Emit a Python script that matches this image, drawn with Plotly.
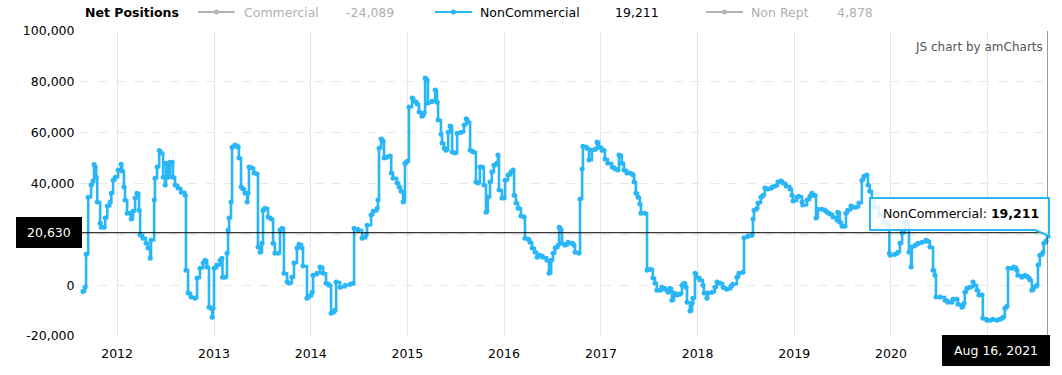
import plotly.graph_objects as go

# ---------------- data ----------------
dates = [
    "2011-08-25", "2011-09-02", "2011-09-06", "2011-09-14", "2011-09-25", "2011-10-02", "2011-10-06", "2011-10-10",
    "2011-10-14", "2011-10-18", "2011-10-29", "2011-11-02", "2011-11-13", "2011-11-17", "2011-11-25", "2011-12-06",
    "2011-12-10", "2011-12-17", "2011-12-25",
    "2012-01-05", "2012-01-16", "2012-01-20", "2012-01-27", "2012-01-31", "2012-02-08", "2012-02-19", "2012-02-23",
    "2012-03-01", "2012-03-09", "2012-03-16", "2012-03-24", "2012-03-28", "2012-04-08", "2012-04-19", "2012-04-27",
    "2012-05-05", "2012-05-08", "2012-05-20", "2012-05-23", "2012-05-31", "2012-06-08", "2012-06-15", "2012-06-23",
    "2012-06-30", "2012-07-04", "2012-07-12", "2012-07-19", "2012-07-27", "2012-07-30", "2012-08-07", "2012-08-18",
    "2012-08-30", "2012-09-14", "2012-09-17", "2012-09-25", "2012-10-06", "2012-10-21", "2012-10-29", "2012-11-09",
    "2012-11-21", "2012-11-28", "2012-12-06", "2012-12-13", "2012-12-21", "2012-12-25", "2012-12-28",
    "2013-01-01", "2013-01-12", "2013-01-24", "2013-01-31", "2013-02-02", "2013-02-12", "2013-02-19", "2013-02-23",
    "2013-02-27", "2013-03-06", "2013-03-10", "2013-03-21", "2013-04-02", "2013-04-05", "2013-04-13", "2013-04-20",
    "2013-04-28", "2013-05-06", "2013-05-09", "2013-05-13", "2013-05-24", "2013-06-01", "2013-06-12", "2013-06-16",
    "2013-06-24", "2013-07-01", "2013-07-05", "2013-07-12", "2013-07-24", "2013-08-04", "2013-08-12", "2013-08-19",
    "2013-08-31", "2013-09-07", "2013-09-15", "2013-09-22", "2013-10-04", "2013-10-11", "2013-10-22", "2013-10-30",
    "2013-11-10", "2013-11-18", "2013-11-29", "2013-12-03", "2013-12-18", "2013-12-26",
    "2014-01-06", "2014-01-10", "2014-01-25", "2014-02-05", "2014-02-17", "2014-02-28", "2014-03-11", "2014-03-19",
    "2014-03-27", "2014-04-03", "2014-04-07", "2014-04-22", "2014-05-11", "2014-05-30", "2014-06-10", "2014-06-14",
    "2014-06-29", "2014-07-14", "2014-07-29", "2014-08-02", "2014-08-17", "2014-08-25", "2014-09-09", "2014-09-12",
    "2014-09-16", "2014-09-24", "2014-10-01", "2014-10-05", "2014-10-16", "2014-10-28", "2014-11-01", "2014-11-08",
    "2014-11-23", "2014-12-01", "2014-12-08", "2014-12-16", "2014-12-23", "2014-12-31",
    "2015-01-07", "2015-01-19", "2015-01-26", "2015-02-07", "2015-02-14", "2015-02-25", "2015-03-05", "2015-03-09",
    "2015-03-16", "2015-03-20", "2015-04-04", "2015-04-16", "2015-04-23", "2015-04-27", "2015-05-08", "2015-05-12",
    "2015-05-20", "2015-05-27", "2015-06-04", "2015-06-11", "2015-06-19", "2015-06-30", "2015-07-08", "2015-07-23",
    "2015-08-03", "2015-08-11", "2015-08-18", "2015-08-26", "2015-09-06", "2015-09-17", "2015-09-25", "2015-10-02",
    "2015-10-10", "2015-10-17", "2015-10-25", "2015-11-01", "2015-11-09", "2015-11-16", "2015-11-24", "2015-12-05",
    "2015-12-09", "2015-12-13", "2015-12-24",
    "2016-01-01", "2016-01-05", "2016-01-16", "2016-01-27", "2016-02-04", "2016-02-08", "2016-02-15", "2016-02-23",
    "2016-03-05", "2016-03-17", "2016-03-20", "2016-04-01", "2016-04-08", "2016-04-16", "2016-04-27", "2016-05-05",
    "2016-05-16", "2016-05-27", "2016-06-11", "2016-06-19", "2016-06-27", "2016-07-04", "2016-07-12", "2016-07-23",
    "2016-07-27", "2016-08-03", "2016-08-07", "2016-08-18", "2016-08-30", "2016-09-14", "2016-09-21", "2016-09-25",
    "2016-10-10", "2016-10-14", "2016-10-22", "2016-10-25", "2016-11-09", "2016-11-17", "2016-11-28", "2016-12-10",
    "2016-12-17", "2016-12-25",
    "2017-01-05", "2017-01-12", "2017-01-16", "2017-01-27", "2017-02-12", "2017-02-23", "2017-03-06", "2017-03-10",
    "2017-03-21", "2017-03-29", "2017-04-09", "2017-04-20", "2017-05-02", "2017-05-06", "2017-05-13", "2017-05-21",
    "2017-05-28", "2017-06-01", "2017-06-16", "2017-06-24", "2017-07-05", "2017-07-16", "2017-07-24", "2017-07-31",
    "2017-08-12", "2017-08-19", "2017-08-31", "2017-09-11", "2017-09-18", "2017-09-26", "2017-10-04", "2017-10-15",
    "2017-10-26", "2017-11-03", "2017-11-10", "2017-11-18", "2017-11-22", "2017-12-03", "2017-12-11", "2017-12-14",
    "2017-12-22", "2017-12-29",
    "2018-01-10", "2018-01-21", "2018-01-25", "2018-02-05", "2018-02-09", "2018-02-24", "2018-03-07", "2018-03-15",
    "2018-03-26", "2018-04-07", "2018-04-14", "2018-04-22", "2018-05-07", "2018-05-14", "2018-05-29", "2018-06-06",
    "2018-06-21", "2018-06-25", "2018-07-10", "2018-07-25", "2018-07-29", "2018-08-02", "2018-08-13", "2018-08-17",
    "2018-08-28", "2018-09-05", "2018-09-12", "2018-09-23", "2018-10-09", "2018-10-20", "2018-10-31", "2018-11-12",
    "2018-11-19", "2018-12-01", "2018-12-16", "2018-12-23", "2018-12-27",
    "2019-01-11", "2019-01-18", "2019-01-30", "2019-02-02", "2019-02-18", "2019-03-01", "2019-03-08", "2019-03-12",
    "2019-03-20", "2019-03-24", "2019-03-31", "2019-04-15", "2019-04-26", "2019-05-04", "2019-05-15", "2019-05-27",
    "2019-06-11", "2019-06-14", "2019-06-22", "2019-06-30", "2019-07-11", "2019-07-15", "2019-07-22", "2019-08-03",
    "2019-08-10", "2019-08-21", "2019-09-02", "2019-09-13", "2019-09-21", "2019-10-02", "2019-10-06", "2019-10-13",
    "2019-10-21", "2019-10-29", "2019-11-15", "2019-12-04", "2019-12-22", "2019-12-26", "2019-12-29",
    "2020-01-16", "2020-01-27", "2020-02-04", "2020-02-12", "2020-02-23", "2020-03-01", "2020-03-09", "2020-03-17",
    "2020-03-20", "2020-04-01", "2020-04-12", "2020-04-27", "2020-05-12", "2020-05-20", "2020-05-27", "2020-06-08",
    "2020-06-15", "2020-06-19", "2020-07-04", "2020-07-23", "2020-08-03", "2020-08-18", "2020-08-22", "2020-09-06",
    "2020-09-10", "2020-09-25", "2020-10-03", "2020-10-06", "2020-10-14", "2020-10-25", "2020-11-06", "2020-11-09",
    "2020-11-21", "2020-11-28", "2020-12-10", "2020-12-13", "2020-12-28",
    "2021-01-09", "2021-01-20", "2021-02-04", "2021-02-15", "2021-02-27", "2021-03-06", "2021-03-14", "2021-03-18",
    "2021-04-02", "2021-04-09", "2021-04-20", "2021-04-24", "2021-05-09", "2021-05-21", "2021-06-01", "2021-06-09",
    "2021-06-16", "2021-06-24", "2021-07-05", "2021-07-09", "2021-07-16", "2021-07-28", "2021-07-31", "2021-08-09",
    "2021-08-16",
]

noncommercial = [
    -2500, -800, 12200, 34600, 39400, 41000, 47500, 46500,
    42500, 32700, 24400, 22800, 22800, 26400, 31100, 32700,
    36200, 41300, 42500,
    45300, 47600, 44900, 38600, 33500, 28300, 28300, 26000,
    29100, 34300, 36200, 29500, 19700, 18500, 16500, 14600,
    10600, 17700, 33500, 42100, 46500, 53000, 52000, 42500,
    39400, 48000, 42500, 48400, 48400, 42500, 39400, 38200,
    36600, 35400, 5900, -3100, -4700, -5100, 2800, 6700,
    8700, 9800, 7100, -8700, -9100, -12600, -9100,
    6700, 7900, 9800, 10600, 3100, 3100, 12600, 21700,
    26400, 32700, 54300, 55100, 54300, 50000, 38600, 37800,
    36200, 32700, 36200, 46500, 46100, 44100, 43700, 15000,
    13000, 16500, 29500, 30300, 26800, 26000, 16500, 12600,
    12600, 21700, 22400, 4700, 1200, 800, 3100, 8700,
    14600, 16100, 14600, 7500, -5100, -4300,
    -2800, 3900, 4700, 7100, 4700, 800, 0, -11000,
    -10600, -9800, 1200, -800, 0, 400, 800, 22400,
    21700, 18500, 19700, 23600, 27600, 29100, 30300, 33500,
    53900, 57500, 56700, 50000, 50400, 50800, 44100, 42100,
    40200, 38600, 37000, 32700, 48000, 48800,
    70100, 73600, 72400, 71300, 68100, 66500, 67700, 81500,
    80700, 71700, 72400, 76800, 72000, 65000, 59400, 55900,
    53900, 53100, 60200, 62600, 52400, 52000, 59800, 60200,
    63000, 65500, 64200, 53100, 52400, 40600, 40200, 46500,
    46500, 39400, 28700, 34600, 40600, 44500, 47200, 48000,
    51200, 37400, 34300,
    34300, 41300, 43300, 44500, 45300, 35400, 32300, 30300,
    27200, 26800, 18500, 18100, 16900, 14600, 13000, 11000,
    11800, 11000, 9800, 4700, 9800, 12600, 14600, 15700,
    22800, 21700, 16500, 15700, 16900, 16500, 15700, 13000,
    12600, 33900, 45700, 54700, 53900, 49200, 53100, 53500,
    56300, 54300,
    53100, 53100, 49600, 48000, 46500, 45700, 45300, 51200,
    48000, 45300, 44100, 44100, 43300, 40600, 36200, 34600,
    31900, 28300, 28300, 5900, 6300, 2800, 800, -2000,
    -2000, -800, -1600, -2800, -1200, -5900, -3100, -3900,
    -3500, 0, 800, -800, -6700, -10200, -7100, -5100,
    4700, 3100,
    2000, 0, -3100, -5100, -3100, -2800, -800, 1200,
    800, -800, -1200, -1600, -400, 400, 3100, 4700,
    5100, 18700, 19300, 19700, 26000, 29500, 30300, 32300,
    34600, 35400, 38200, 37800, 38600, 39000, 40600, 41000,
    40200, 39000, 37800, 35400, 33100,
    34600, 35000, 32700, 31500, 33500, 35000, 36200, 35400,
    35400, 26400, 29900, 29900, 29500, 28700, 28000, 26800,
    25600, 28700, 24800, 23200, 23200, 28300, 29500, 31100,
    30700, 30700, 32300, 41300, 42900, 43300, 39400, 37000,
    33500, 30700, 27600, 24800, 23600, 12600, 11800,
    12200, 13000, 16500, 20500, 24800, 24400, 13000, 7100,
    15000, 15700, 16500, 16900, 17700, 17300, 15000, 5900,
    3900, -4700, -4700, -5900, -6700, -6700, -5500, -5500,
    -7500, -8700, -7100, -2800, -1200, -800, 1200, 0,
    -2000, -3900, -3900, -13000, -13800,
    -13800, -13400, -13800, -13400, -12600, -9100, -8300, 6700,
    6700, 7100, 5900, 3900, 3100, 3900, 3100, 2000,
    -2000, -800, 0, 7900, 11800, 13000, 16500, 17500,
    19211,
]

year_tick_dates = ["2012-01-01", "2013-01-01", "2014-01-01", "2015-01-01", "2016-01-01",
                   "2017-01-01", "2018-01-01", "2019-01-01", "2020-01-01", "2021-01-01"]
# the 2021 label is hidden under the cursor date balloon in the reference
year_tick_labels = ["2012", "2013", "2014", "2015", "2016", "2017", "2018", "2019", "2020", ""]

y_tick_values = [-20000, 0, 20000, 40000, 60000, 80000, 100000]
# the 20,000 label is hidden under the cursor value balloon in the reference
y_tick_labels = ["-20,000", "0", "", "40,000", "60,000", "80,000", "100,000"]

legend_title = "Net Positions"
legend_names = ["Commercial", "NonCommercial", "Non Rept"]
legend_values = ["-24,089", "19,211", "4,878"]
legend_active = [False, True, False]

cursor_value = 20630
cursor_value_label = "20,630"
cursor_date = "2021-08-16"
cursor_date_label = "Aug 16, 2021"
tooltip_series = "NonCommercial"
tooltip_value = "19,211"

# ---------------- styling / layout ----------------
W, H = 1062, 375
L, R, T, B = 80, 1048, 31, 336   # plot area in window pixels
BLUE = "#29B6F6"
GREY = "#b4b4b4"
FONT = "DejaVu Sans"


def px(x):
    return (x - L) / (R - L)


def py(y):
    return (B - y) / (B - T)


fig = go.Figure()
fig.add_trace(go.Scatter(
    x=dates, y=noncommercial, mode="lines+markers",
    line=dict(color=BLUE, width=2.6, shape="hv"),
    marker=dict(size=5, color=BLUE),
    cliponaxis=False, hoverinfo="skip", showlegend=False,
))

shapes = []
annotations = []

# cursor lines
shapes.append(dict(type="line", xref="paper", yref="y", x0=0, x1=1, y0=cursor_value, y1=cursor_value,
                   line=dict(color="black", width=1), layer="above"))
shapes.append(dict(type="line", xref="x", yref="paper", x0=cursor_date, x1=cursor_date, y0=0, y1=1,
                   line=dict(color="#333333", width=1), layer="above"))

# value balloon on the y-axis
shapes.append(dict(type="rect", xref="paper", yref="paper", x0=px(16), x1=px(82), y0=py(248), y1=py(217),
                   fillcolor="black", line=dict(width=0), layer="above"))
annotations.append(dict(xref="paper", yref="paper", x=px(49), y=py(232.5), text=cursor_value_label,
                        showarrow=False, xanchor="center", yanchor="middle",
                        font=dict(family=FONT, size=12.5, color="white")))

# date balloon on the x-axis
shapes.append(dict(type="rect", xref="paper", yref="paper", x0=px(942), x1=px(1050), y0=py(366), y1=py(335),
                   fillcolor="black", line=dict(width=0), layer="above"))
annotations.append(dict(xref="paper", yref="paper", x=px(996), y=py(350.5), text=cursor_date_label,
                        showarrow=False, xanchor="center", yanchor="middle",
                        font=dict(family=FONT, size=12.5, color="white")))

# series tooltip
path = "M {a},{b} L {c},{b} L {c},{d} L {e},{f} L {a},{f} Z".format(
    a=px(870), b=py(198), c=px(1049), d=py(236), e=px(1035), f=py(230))
shapes.append(dict(type="path", xref="paper", yref="paper", path=path,
                   fillcolor="rgba(255,255,255,0.85)", line=dict(color=BLUE, width=2), layer="above"))
annotations.append(dict(xref="paper", yref="paper", x=px(881), y=py(213.5),
                        text=f"{tooltip_series}: <b>{tooltip_value}</b>",
                        showarrow=False, xanchor="left", yanchor="middle",
                        font=dict(family=FONT, size=12.5, color="black")))

# credit
annotations.append(dict(xref="paper", yref="paper", x=px(1045), y=py(47), text="JS chart by amCharts",
                        showarrow=False, xanchor="right", yanchor="middle",
                        font=dict(family=FONT, size=12, color="#555555")))

# legend (drawn by hand)
ly = py(12)
annotations.append(dict(xref="paper", yref="paper", x=px(83), y=ly, text=f"<b>{legend_title}</b>",
                        showarrow=False, xanchor="left", yanchor="middle",
                        font=dict(family=FONT, size=12.5, color="black")))
icon_x = [198, 435, 706]
name_x = [242, 478, 749]
value_x = [344, 613, 835]
for i, name in enumerate(legend_names):
    col = BLUE if legend_active[i] else GREY
    tcol = "black" if legend_active[i] else "#b0b0b0"
    x0, x1 = icon_x[i], icon_x[i] + 37
    shapes.append(dict(type="line", xref="paper", yref="paper", x0=px(x0), x1=px(x1), y0=ly, y1=ly,
                       line=dict(color=col, width=2)))
    xm = (x0 + x1) / 2
    shapes.append(dict(type="circle", xref="paper", yref="paper", x0=px(xm - 2.5), x1=px(xm + 2.5),
                       y0=py(14.5), y1=py(9.5), fillcolor=col, line=dict(width=0)))
    annotations.append(dict(xref="paper", yref="paper", x=px(name_x[i]), y=ly, text=name,
                            showarrow=False, xanchor="left", yanchor="middle",
                            font=dict(family=FONT, size=12.5, color=tcol)))
    annotations.append(dict(xref="paper", yref="paper", x=px(value_x[i]), y=ly, text=legend_values[i],
                            showarrow=False, xanchor="left", yanchor="middle",
                            font=dict(family=FONT, size=12.5, color=tcol)))

fig.update_layout(
    width=W, height=H,
    margin=dict(l=L, r=W - R, t=T, b=H - B, pad=0),
    paper_bgcolor="white", plot_bgcolor="white",
    font=dict(family=FONT, size=12.5, color="black"),
    showlegend=False, hovermode=False,
    shapes=shapes, annotations=annotations,
    xaxis=dict(
        type="date", range=["2011-08-14", cursor_date],
        tickvals=year_tick_dates, ticktext=year_tick_labels,
        showgrid=True, gridcolor="#e6e6e6", gridwidth=1,
        zeroline=False, showline=False,
        ticks="outside", ticklen=6, tickcolor="rgba(0,0,0,0)",
        tickfont=dict(family=FONT, size=12.5, color="black"),
    ),
    yaxis=dict(
        range=[-20000, 100000],
        tickvals=y_tick_values, ticktext=y_tick_labels,
        showgrid=True, gridcolor="#e8e8e8", gridwidth=1, griddash="dash",
        zeroline=False, showline=False,
        ticks="outside", ticklen=2, tickcolor="rgba(0,0,0,0)",
        tickfont=dict(family=FONT, size=12.5, color="black"),
    ),
)

# remove the default page margin so the figure sits at the window's top-left corner
fig.write_html("out.html",
               config=dict(displayModeBar=False, staticPlot=True),
               post_script="document.body.style.margin='0';document.body.style.overflow='hidden';")
